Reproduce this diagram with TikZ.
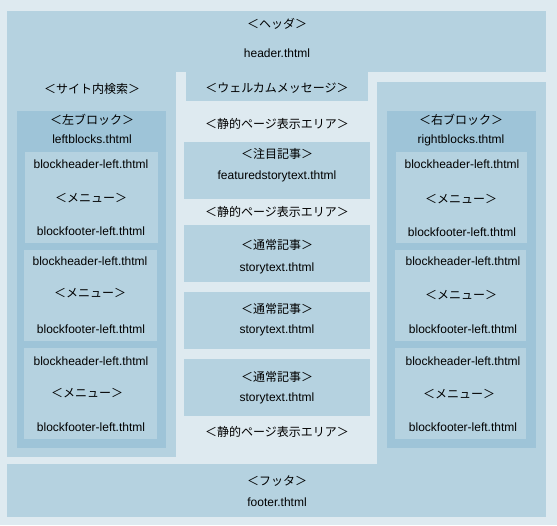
\documentclass[tikz,border=0pt]{standalone}
\usepackage{fontspec}
\setmainfont{Liberation Sans}
\newfontfamily\jp{Noto Sans CJK JP}
\definecolor{lightbg}{HTML}{DEEAF0}
\definecolor{midbg}{HTML}{B5D2E0}
\definecolor{darkbg}{HTML}{9EC4D8}
\tikzset{
  midfill/.style={fill=midbg},
  darkfill/.style={fill=darkbg},
  jtxt/.style={inner sep=0pt, font=\jp\fontsize{12}{14}\selectfont},
  ltxt/.style={inner sep=0pt, font=\fontsize{12}{14}\selectfont},
}
\begin{document}
\begin{tikzpicture}[x=1pt,y=-1pt]
\useasboundingbox (0,0) rectangle (557,525);
\fill[lightbg] (0,0) rectangle (557,525);
% header + left column + welcome
\fill[midfill] (7,11) rectangle (546,72);
\fill[midfill] (7,72) rectangle (176,457);
\fill[midfill] (186,72) rectangle (368,101);
% right column + footer
\fill[midfill] (377,82) rectangle (546,517);
\fill[midfill] (7,464) rectangle (546,517);
% left block
\fill[darkfill] (17,111) rectangle (166,448);
\fill[midfill] (25,152) rectangle (158,243);
\fill[midfill] (24,250) rectangle (157,341);
\fill[midfill] (24,348) rectangle (157,439);
% right block
\fill[darkfill] (387,111) rectangle (536,448);
\fill[midfill] (396,152) rectangle (527,243);
\fill[midfill] (395,250) rectangle (526,341);
\fill[midfill] (395,348) rectangle (526,439);
% center boxes
\fill[midfill] (184,142) rectangle (370,199);
\fill[midfill] (184,225) rectangle (370,282);
\fill[midfill] (184,292) rectangle (370,349);
\fill[midfill] (184,359) rectangle (370,416);

% header texts
\node[jtxt] (hdr) at (277,24) {＜ヘッダ＞};
\node[ltxt] (hdrf) at (277,53) {header.thtml};
% left column
\node[jtxt] (search) at (92,89) {＜サイト内検索＞};
\node[jtxt] (lb) at (92,120) {＜左ブロック＞};
\node[ltxt] (lbf) at (92,139) {leftblocks.thtml};
\node[ltxt] (l1h) at (91,164) {blockheader-left.thtml};
\node[jtxt] (l1m) at (91,198) {＜メニュー＞};
\node[ltxt] (l1f) at (91,231) {blockfooter-left.thtml};
\node[ltxt] (l2h) at (90,261) {blockheader-left.thtml};
\node[jtxt] (l2m) at (90,293) {＜メニュー＞};
\node[ltxt] (l2f) at (91,329) {blockfooter-left.thtml};
\node[ltxt] (l3h) at (91,361) {blockheader-left.thtml};
\node[jtxt] (l3m) at (87,393) {＜メニュー＞};
\node[ltxt] (l3f) at (91,427) {blockfooter-left.thtml};
% center
\node[jtxt] (welcome) at (277,88) {＜ウェルカムメッセージ＞};
\node[jtxt] (st1) at (277,124) {＜静的ページ表示エリア＞};
\node[jtxt] (feat) at (277,154) {＜注目記事＞};
\node[ltxt] (featf) at (277,176) {featuredstorytext.thtml};
\node[jtxt] (st2) at (277,212) {＜静的ページ表示エリア＞};
\node[jtxt] (s1) at (277,245) {＜通常記事＞};
\node[ltxt] (s1f) at (277,268) {storytext.thtml};
\node[jtxt] (s2) at (277,309) {＜通常記事＞};
\node[ltxt] (s2f) at (277,330) {storytext.thtml};
\node[jtxt] (s3) at (277,377) {＜通常記事＞};
\node[ltxt] (s3f) at (277,398) {storytext.thtml};
\node[jtxt] (st3) at (277,432) {＜静的ページ表示エリア＞};
% right column
\node[jtxt] (rb) at (461,120) {＜右ブロック＞};
\node[ltxt] (rbf) at (461,140) {rightblocks.thtml};
\node[ltxt] (r1h) at (462,164) {blockheader-left.thtml};
\node[jtxt] (r1m) at (461,199) {＜メニュー＞};
\node[ltxt] (r1f) at (462,232) {blockfooter-left.thtml};
\node[ltxt] (r2h) at (463,261) {blockheader-left.thtml};
\node[jtxt] (r2m) at (461,295) {＜メニュー＞};
\node[ltxt] (r2f) at (463,329) {blockfooter-left.thtml};
\node[ltxt] (r3h) at (463,361) {blockheader-left.thtml};
\node[jtxt] (r3m) at (459,394) {＜メニュー＞};
\node[ltxt] (r3f) at (463,427) {blockfooter-left.thtml};
% footer
\node[jtxt] (ftr) at (277,481) {＜フッタ＞};
\node[ltxt] (ftrf) at (277,502) {footer.thtml};
\end{tikzpicture}
\end{document}
